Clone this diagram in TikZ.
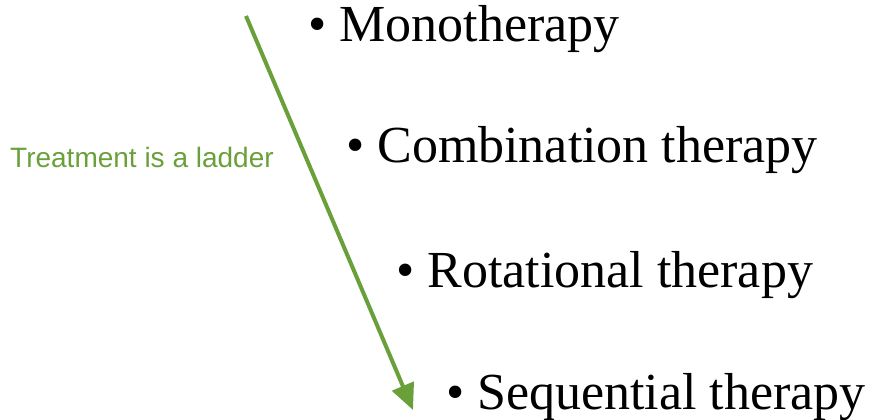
\documentclass[tikz,border=0pt]{standalone}
\usepackage{fontspec}
\setmainfont{Liberation Serif}
\newfontfamily\labelfont{Liberation Sans}
\usetikzlibrary{arrows.meta,positioning}
\definecolor{laddergreen}{RGB}{106,160,58}
\tikzset{%
  item/.style={anchor=base west, inner sep=0pt, font=\fontsize{52}{60}\selectfont},
  ladder/.style={draw=laddergreen, line width=4pt, -{Triangle[length=26pt,width=23pt]}},
  note/.style={anchor=base west, inner sep=0pt, text=laddergreen, font=\labelfont\fontsize{28}{32}\selectfont}
}

\begin{document}
\begin{tikzpicture}[x=1pt,y=-1pt]
  \useasboundingbox (0,0) rectangle (871,420);
  \foreach \x/\y/\txt [count=\i] in {308/42/Monotherapy,
      346/162/Combination therapy,
      396/287/Rotational therapy,
      446/409/Sequential therapy}{%
    \node [item] (t\i) at (\x,\y) {\textbullet\ \txt};
  }
  \node [note] (lbl) at (10,167) {Treatment is a ladder};
  \coordinate (top) at (246,16);
  \coordinate (bot) at (413,410);
  \draw [ladder] (top) -- (bot);
\end{tikzpicture}
\end{document}
